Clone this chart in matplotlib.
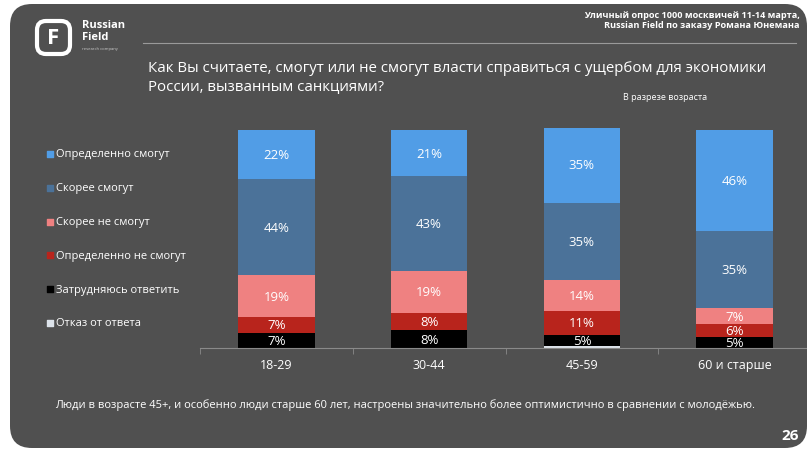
import matplotlib.pyplot as plt
from matplotlib.patches import FancyBboxPatch

plt.rcParams['font.family'] = ['Open Sans', 'DejaVu Sans']

# data
groups = ["18-29", "30-44", "45-59", "60 и старше"]
answers = ["Определенно смогут", "Скорее смогут", "Скорее не смогут",
           "Определенно не смогут", "Затрудняюсь ответить", "Отказ от ответа"]
colors = ["#519de6", "#4b7299", "#ef8181", "#b8241c", "#000000", "#dde3ea"]
# values per answer, one per age group
definitely_yes = [22, 21, 35, 46]
rather_yes = [44, 43, 35, 35]
rather_no = [19, 19, 14, 7]
definitely_no = [7, 8, 11, 6]
hard_to_say = [7, 8, 5, 5]
refused = [0, 0, 1, 0]

title = "Как Вы считаете, смогут или не смогут власти справиться с ущербом для экономики\nРоссии, вызванным санкциями?"
source = "Уличный опрос 1000 москвичей 11-14 марта,\nRussian Field по заказу Романа Юнемана"
subtitle = "В разрезе возраста"
note = "Люди в возрасте 45+, и особенно люди старше 60 лет, настроены значительно более оптимистично в сравнении с молодёжью."

W, H = 807, 452
fig = plt.figure(figsize=(W / 100, H / 100), dpi=100, facecolor="white")

# background slide, pixel coordinates
bg = fig.add_axes([0, 0, 1, 1])
bg.set_xlim(0, W)
bg.set_ylim(H, 0)
bg.axis("off")
bg.add_patch(FancyBboxPatch((10, 5), 797, 444, boxstyle="round,pad=0,rounding_size=22",
                            fc="#505050", ec="none"))

# logo
bg.add_patch(FancyBboxPatch((37, 22), 33, 33, boxstyle="round,pad=0,rounding_size=9",
                            fc="none", ec="white", lw=3))
bg.text(53.5, 39, "F", color="white", fontsize=16, fontweight="bold", ha="center", va="center")
bg.text(82, 20, "Russian\nField", color="white", fontsize=8, fontweight="bold",
        va="top", linespacing=1.1)
bg.text(82, 49, "research company", color="#cccccc", fontsize=3, va="center")

bg.plot([143, 796], [44, 44], color="#9a9a9a", lw=0.8)
bg.text(800, 11, source, color="white", fontsize=6.6, fontweight="bold", ha="right", va="top",
        linespacing=1.2)
bg.text(148, 61, title, color="white", fontsize=10.8, va="top", linespacing=1.3)
bg.text(665, 98, subtitle, color="white", fontsize=6.5, ha="center", va="center")
bg.text(55, 405, note, color="white", fontsize=8, va="center")
bg.text(790, 436, "26", color="white", fontsize=11, fontweight="bold", ha="center", va="center")

# legend
for i, (name, c) in enumerate(zip(answers, colors)):
    y = 155 + i * 33.8
    bg.scatter([50], [y], marker="s", s=14, color=c)
    bg.text(56, y, name, color="white", fontsize=8, va="center")

# bars
left, right, bottom, top = 200, 811, 349, 129
ax = fig.add_axes([left / W, 1 - bottom / H, (right - left) / W, (bottom - top) / H])
ax.set_facecolor("none")
series = [hard_to_say, definitely_no, rather_no, rather_yes, definitely_yes]
series_colors = [colors[4], colors[3], colors[2], colors[1], colors[0]]
x = range(len(groups))
base = list(refused)
ax.bar(x, refused, width=0.5, color=colors[5], bottom=0)
for vals, c in zip(series, series_colors):
    ax.bar(x, vals, width=0.5, bottom=base, color=c)
    for xi, v, b in zip(x, vals, base):
        ax.text(xi, b + v / 2, f"{v}%", color="white", fontsize=9.5, ha="center", va="center")
    base = [b + v for b, v in zip(base, vals)]

ax.set_xlim(-0.5, 3.5)
ax.set_ylim(0, 100)
ax.set_yticks([])
for s in ["top", "right", "left"]:
    ax.spines[s].set_visible(False)
ax.spines["bottom"].set_color("#8a8a8a")
ax.spines["bottom"].set_linewidth(0.8)
ax.set_xticks(list(x))
ax.set_xticklabels(groups, color="white", fontsize=9)
ax.tick_params(axis="x", length=0, pad=7)
ax.set_xticks([-0.5, 0.5, 1.5, 2.5, 3.5], minor=True)
ax.tick_params(axis="x", which="minor", length=4, color="#8a8a8a")

fig.savefig("out.png", dpi=100, facecolor="white")
